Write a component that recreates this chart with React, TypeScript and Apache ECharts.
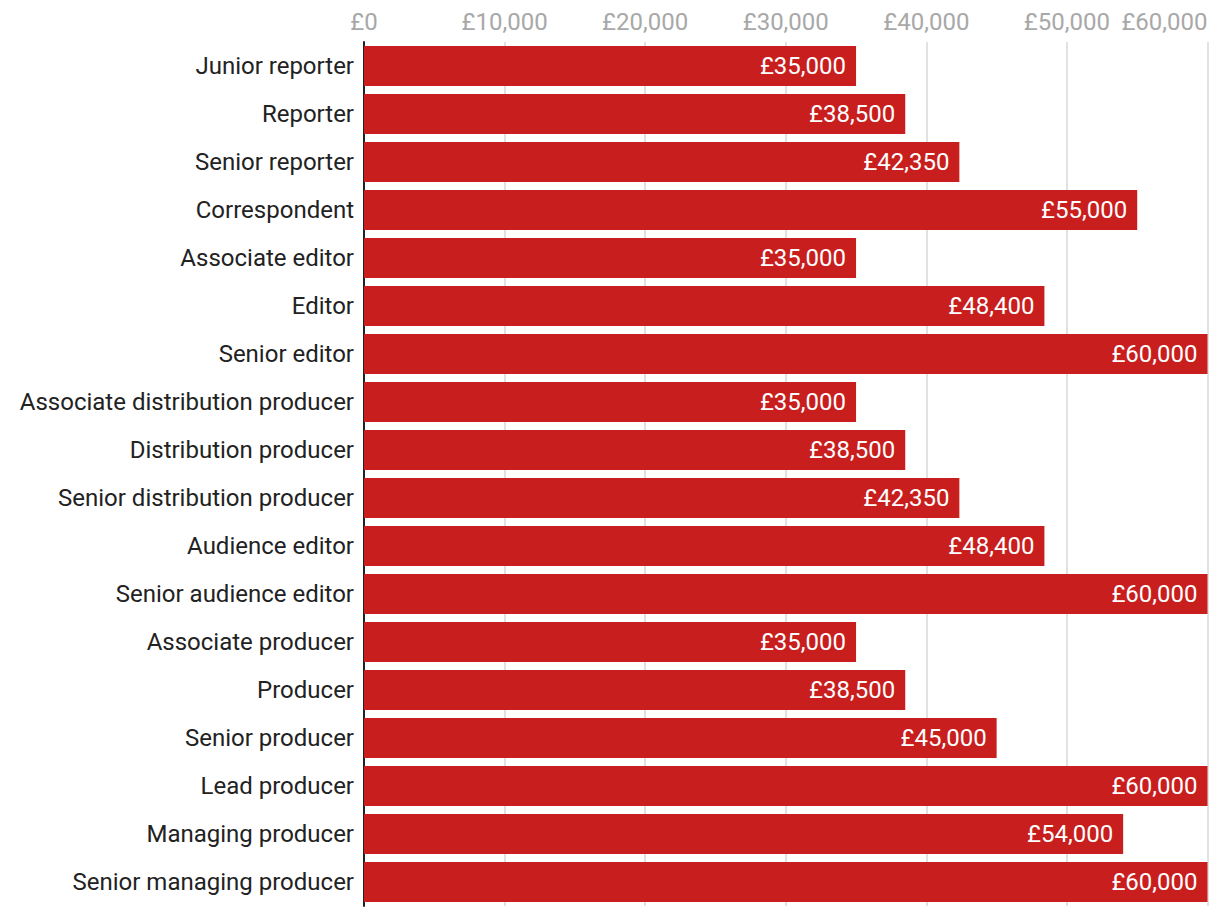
import React, { useEffect, useRef } from "react";
import * as echarts from "echarts";

const categories = [
  "Junior reporter",
  "Reporter",
  "Senior reporter",
  "Correspondent",
  "Associate editor",
  "Editor",
  "Senior editor",
  "Associate distribution producer",
  "Distribution producer",
  "Senior distribution producer",
  "Audience editor",
  "Senior audience editor",
  "Associate producer",
  "Producer",
  "Senior producer",
  "Lead producer",
  "Managing producer",
  "Senior managing producer",
];

const salaries = [
  35000, 38500, 42350, 55000, 35000, 48400, 60000, 35000, 38500, 42350, 48400,
  60000, 35000, 38500, 45000, 60000, 54000, 60000,
];

const fmt = (v: number) => "£" + v.toLocaleString("en-GB");

export default function App() {
  const ref = useRef<HTMLDivElement>(null);
  useEffect(() => {
    if (!ref.current) return;
    const chart = echarts.init(ref.current, undefined, { renderer: "svg" });
    chart.setOption({
      animation: false,
      grid: { left: 364, right: 12.5, top: 42, height: 864, containLabel: false },
      xAxis: {
        type: "value",
        position: "top",
        min: 0,
        max: 60000,
        interval: 10000,
        axisLine: { show: false },
        axisTick: { show: false },
        splitLine: { show: true, lineStyle: { color: "#e2e2e2", width: 2 } },
        axisLabel: {
          formatter: (v: number) => fmt(v),
          color: "#a8a8a8",
          fontFamily: "Roboto",
          fontSize: 24,
          margin: 8,
          alignMaxLabel: "right",
        },
      },
      yAxis: {
        type: "category",
        data: categories,
        inverse: true,
        axisLine: { show: true, lineStyle: { color: "#222", width: 2 } },
        axisTick: { show: false },
        axisLabel: {
          color: "#222",
          fontFamily: "Roboto",
          fontSize: 24,
          margin: 10,
        },
      },
      series: [
        {
          type: "bar",
          data: salaries,
          barWidth: 40,
          itemStyle: { color: "#c81e1e" },
          label: {
            show: true,
            position: "insideRight",
            distance: 10,
            color: "#fff",
            fontFamily: "Roboto",
            fontSize: 24,
            formatter: (p: any) => fmt(p.value),
          },
        },
      ],
    });
    return () => chart.dispose();
  }, []);
  return <div ref={ref} style={{ width: 1220, height: 912, position: "absolute", left: 0, top: 0 }} />;
}
